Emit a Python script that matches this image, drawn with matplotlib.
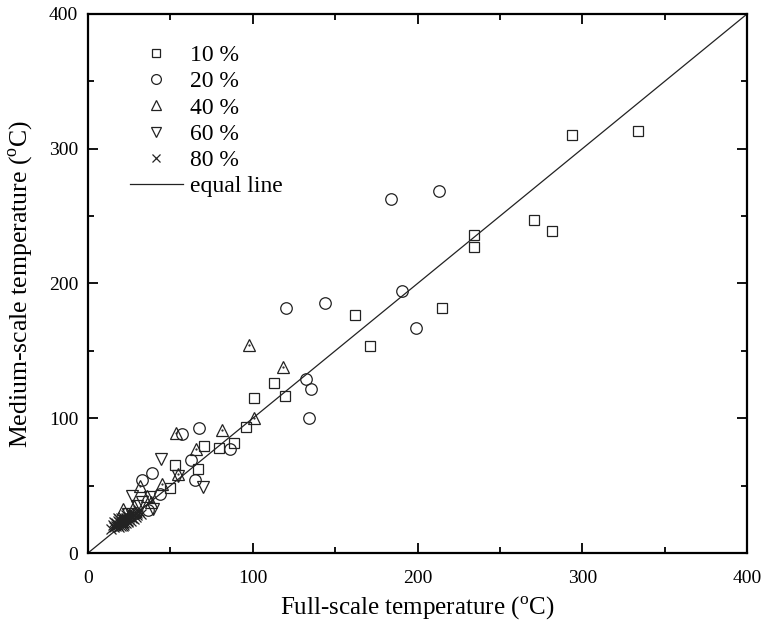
import numpy as np
import matplotlib
matplotlib.use('Agg')
from matplotlib import pyplot as plt
from matplotlib.ticker import MultipleLocator

plt.rcParams['font.family'] = 'Liberation Serif'
plt.rcParams['mathtext.fontset'] = 'custom'
plt.rcParams['mathtext.rm'] = 'Liberation Serif'

# 10 % (squares)
x10 = [334, 294, 270.5, 281.5, 234, 234.5, 215, 162, 171, 113, 101, 119.5, 96, 88.6, 79.3, 70.4, 52.8, 67, 50]
y10 = [313, 310, 247, 239, 236, 227, 182, 176.5, 153.5, 126.5, 115, 116.5, 93.5, 82, 78, 79.4, 65.3, 62, 48]
# 20 % (circles)
x20 = [213, 184, 144, 120, 190.6, 199, 132.3, 135.4, 134, 86.2, 67.4, 56.9, 62.5, 65, 38.6, 32.6, 43.6, 36.6, 29]
y20 = [269, 262.5, 185.5, 181.5, 194.4, 166.7, 129, 121.7, 100.5, 77.5, 92.5, 88.3, 68.7, 54.2, 59.1, 54.2, 44, 32, 30]
# 40 % (up triangles)
x40 = [97.9, 118.2, 100.5, 81.6, 53.6, 65.8, 54.6, 45, 31.6, 35.6, 21.4, 38, 28, 25]
y40 = [154, 138, 100, 91, 89.3, 77.4, 59, 51.5, 50, 42, 33, 38, 35, 28]
# 60 % (down triangles)
x60 = [44.2, 70, 54.8, 27, 39.7, 37.6, 30, 33, 24]
y60 = [70, 49, 57, 42, 33, 41.8, 35, 38, 29]
# 80 % (crosses)
x80 = [18, 19, 20, 21, 22, 20, 23, 24, 25, 26, 19, 21, 22, 24, 27, 28, 30, 17, 23, 25, 29, 31,
       20, 22, 26, 16, 18, 14, 15, 17, 19, 21, 23, 26, 28, 30, 32, 16, 18, 20]
y80 = [21, 23, 24, 22, 25, 20, 26, 24, 27, 28, 25, 27, 21, 23, 26, 29, 30, 22, 28, 25, 27, 31,
       26, 22, 30, 19, 24, 18, 21, 20, 19, 20, 22, 24, 25, 28, 29, 23, 26, 22]

fig = plt.figure(figsize=(7.67, 6.35), dpi=100)
ax = fig.add_axes([0.1147, 0.1291, 0.8593, 0.8489])

mk = dict(linestyle='none', mfc='none', mec='#222222', mew=0.9)
ax.plot(x10, y10, marker='s', ms=7.2, label='10 %', **mk)
ax.plot(x20, y20, marker='o', ms=8.3, label='20 %', **mk)
ax.plot(x40, y40, marker='^', ms=9, label='40 %', **mk)
ax.plot(x40, y40, marker='.', ms=1.2, linestyle='none', color='#222222')
ax.plot(x60, y60, marker='v', ms=9, label='60 %', **mk)
ax.plot(x80, y80, marker='x', ms=7.5, linestyle='none', color='#222222', mew=0.9, label='80 %')
ax.plot([0, 400], [0, 400], color='#222222', lw=0.9, label='equal line')

ax.set_xlim(0, 400)
ax.set_ylim(0, 400)
ax.xaxis.set_major_locator(MultipleLocator(100))
ax.yaxis.set_major_locator(MultipleLocator(100))
ax.xaxis.set_minor_locator(MultipleLocator(50))
ax.yaxis.set_minor_locator(MultipleLocator(50))
ax.tick_params(which='both', direction='in', top=True, right=True, labelsize=14, width=1.3)
ax.tick_params(which='major', length=7)
ax.tick_params(which='minor', length=4)
ax.tick_params(axis='x', pad=12)
ax.tick_params(axis='y', pad=7)
for s in ax.spines.values():
    s.set_linewidth(1.6)

ax.set_xlabel(r'Full-scale temperature ($^{\rm o}$C)', fontsize=18, labelpad=6)
ax.set_ylabel(r'Medium-scale temperature ($^{\rm o}$C)', fontsize=18.5, labelpad=10)

ax.legend(loc='upper left', bbox_to_anchor=(11 / 659, 1), frameon=False, fontsize=17,
          handlelength=2.25, labelspacing=0.2, borderaxespad=0.9, markerscale=0.85,
          handletextpad=0.3)

fig.savefig('out.png', dpi=100)
